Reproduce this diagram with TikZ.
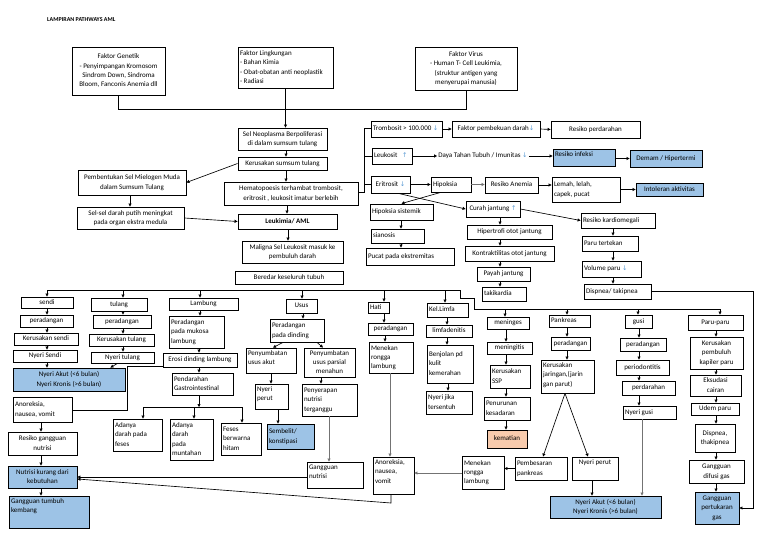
\documentclass[tikz,border=0pt]{standalone}
\usepackage{fontspec}
\setmainfont{Carlito}
\newfontfamily\dvs{DejaVu Sans}
\usetikzlibrary{arrows.meta}
\definecolor{bluebox}{HTML}{9DC3E6}
\definecolor{orangebox}{HTML}{F8CBAD}
\definecolor{ablue}{HTML}{5B9BD5}
\newcommand\fs{\fontsize{7}{9.3}\selectfont}
\newcommand\dnarr{{\dvs\fontsize{6.5}{6.5}\selectfont\color{ablue}↓}}
\newcommand\uparr{{\dvs\fontsize{6.5}{6.5}\selectfont\color{ablue}↑}}
% \bx[vpos]{name}{x1}{y1}{x2}{y2}{style}{l/c}{text}
\newcommand\bx[9][c]{\node[box,#7] (#2) at ({(#3+#5)/2},{(#4+#6)/2}) {\parbox[c][\dimexpr#6pt-#4pt-2pt\relax][#1]{\dimexpr#5pt-#3pt-4pt\relax}{\ifx l#8\raggedright\else\centering\fi\begin{tabular}{@{}#8@{}}#9\end{tabular}}};}
\newcommand\va[3]{\draw[arr] (#2.south -| #1,0) -- (#3.north -| #1,0);}
\newcommand\dr[3]{\draw[arr] (#1,#2) -- (#3.north -| #1,#2);}
\begin{document}
\begin{tikzpicture}[x=1pt,y=-1pt,
  box/.style={draw, line width=0.85pt, inner xsep=2pt, inner ysep=1pt, font=\fs, fill=white},
  bluefill/.style={fill=bluebox},
  orangefill/.style={fill=orangebox},
  ln/.style={line width=0.65pt},
  arr/.style={line width=0.65pt, -{Triangle[length=3pt,width=3pt]}},
  garr/.style={arr, draw=black!55}]
\fill[white] (0,0) rectangle (768,543);
\useasboundingbox (0,0) rectangle (768,543);
\node[anchor=west, font=\bfseries\fontsize{6}{7}\selectfont, inner sep=0pt] (title) at (47,20) {LAMPIRAN PATHWAYS AML};
% top factors
\bx{gen}{72}{47}{165}{95}{}{c}{Faktor Genetik\\- Penyimpangan Kromosom\\Sindrom Down, Sindroma\\Bloom, Fanconis Anemia dll}
\bx{ling}{238}{47}{333}{88}{}{l}{Faktor Lingkungan\\- Bahan Kimia\\- Obat-obatan anti neoplastik\\- Radiasi}
\bx{vir}{415}{47}{517}{90}{}{c}{Faktor Virus\\- Human T- Cell Leukimia,\\(struktur antigen yang\\menyerupai manusia)}
% central column
\bx{neo}{238}{128}{327}{150}{}{c}{Sel Neoplasma Berpoliferasi\\di dalam sumsum tulang}
\bx{kss}{238}{157}{327}{170}{}{c}{Kerusakan sumsum tulang}
\bx{hem}{224}{182}{358}{205}{}{c}{Hematopoesis terhambat trombosit,\\eritrosit , leukosit imatur berlebih}
\bx{leu}{238}{214}{337}{229}{}{c}{\textbf{Leukimia/ AML}}
\bx{mal}{242}{241}{343}{263}{}{c}{Maligna Sel Leukosit masuk ke\\pembuluh darah}
\bx{ber}{235}{271}{343}{284}{}{c}{Beredar keseluruh tubuh}
\bx{pemb}{78}{170}{186}{195}{}{c}{Pembentukan Sel Mielogen Muda\\dalam Sumsum Tulang}
\bx{selp}{77}{207}{184}{229}{}{c}{Sel-sel darah putih meningkat\\pada organ ekstra medula}
% upper right
\bx{tromb}{371}{121}{442}{137}{}{l}{Trombosit > 100.000 \dnarr}
\bx{fpd}{452}{121}{540}{137}{}{c}{Faktor pembekuan darah\dnarr}
\bx{rper}{551}{121}{640}{138}{}{c}{Resiko perdarahan}
\bx{leuk}{372}{148}{412}{164}{}{l}{Leukosit \hspace{3pt}\uparr}
\node[font=\fs, inner sep=1pt] (daya) at (483,156) {Daya Tahan Tubuh / Imunitas \dnarr};
\bx[t]{rinf}{553}{149}{615}{166}{bluefill}{l}{Resiko infeksi}
\bx{dem}{630}{150}{702}{167}{bluefill}{c}{Demam / Hipertermi}
\bx{erit}{371}{176}{410}{193}{}{c}{Eritrosit \dnarr}
\bx{hip}{431}{177}{471}{192}{}{l}{Hipoksia}
\bx{ran}{485}{177}{538}{193}{}{c}{Resiko Anemia}
\bx{lem}{552}{177}{620}{202}{}{l}{Lemah, lelah,\\capek, pucat}
\bx{into}{636}{183}{703}{196}{bluefill}{c}{Intoleran aktivitas}
\bx{hsis}{370}{204}{433}{220}{}{l}{Hipoksia sistemik}
\bx{sia}{371}{229}{424}{243}{}{l}{sianosis}
\bx{puc}{366}{248}{454}{265}{}{l}{Pucat pada ekstremitas}
\bx{cur}{466}{201}{520}{217}{}{c}{Curah jantung \uparr}
\bx{hipt}{467}{225}{552}{239}{}{c}{Hipertrofi otot jantung}
\bx{kon}{465}{246}{554}{261}{}{c}{Kontraktilitas otot jantung}
\bx{pay}{477}{267}{530}{281}{}{c}{Payah jantung}
\bx{tak}{482}{287}{526}{301}{}{l}{takikardia}
\bx{rkar}{581}{213}{655}{228}{}{l}{Resiko kardiomegali}
\bx{ptk}{582}{236}{638}{251}{}{l}{Paru tertekan}
\bx{vol}{582}{261}{641}{277}{}{l}{Volume paru \dnarr}
\bx{dis}{584}{284}{651}{299}{}{l}{Dispnea/ takipnea}
% sendi column
\bx{sendi}{21}{297}{73}{308}{}{c}{sendi}
\bx{per1}{20}{315}{73}{327}{}{c}{peradangan}
\bx{ksendi}{14}{333}{78}{345}{}{c}{Kerusakan sendi}
\bx{nsendi}{13}{350}{77}{362}{}{c}{Nyeri Sendi}
\bx{nak1}{13}{368}{125}{391}{bluefill}{c}{Nyeri Akut (<6 bulan)\\Nyeri Kronis (>6 bulan)}
\bx{ano1}{13}{397}{72}{422}{}{l}{Anoreksia,\\nausea, vomit}
\bx{rgn}{8}{432}{77}{455}{}{c}{Resiko gangguan\\nutrisi}
\bx{nkd}{8}{466}{77}{488}{bluefill}{c}{Nutrisi kurang dari\\kebutuhan}
\bx[t]{gtk}{9}{496}{89}{528}{bluefill}{l}{Gangguan tumbuh\\kembang}
% tulang column
\bx{tulang}{91}{298}{147}{311}{}{c}{tulang}
\bx{per2}{93}{315}{151}{328}{}{c}{peradangan}
\bx{ktul}{89}{334}{154}{346}{}{c}{Kerusakan tulang}
\bx{ntul}{91}{352}{154}{363}{}{c}{Nyeri tulang}
% lambung column
\bx{lamb}{169}{298}{238}{310}{}{c}{Lambung}
\bx{pml}{169}{316}{224}{348}{}{l}{Peradangan\\pada mukosa\\lambung}
\bx{ero}{163}{353}{237}{367}{}{c}{Erosi dinding lambung}
\bx{pgi}{172}{373}{233}{395}{}{l}{Pendarahan\\Gastrointestinal}
\bx{adf}{113}{419}{162}{451}{}{l}{Adanya\\darah pada\\feses}
\bx{adm}{170}{419}{213}{460}{}{l}{Adanya\\darah\\pada\\muntahan}
\bx{fbh}{221}{423}{261}{455}{}{l}{Feses\\berwarna\\hitam}
% usus column
\bx{usus}{286}{299}{317}{313}{}{c}{Usus}
\bx{ppd}{270}{319}{324}{342}{}{l}{Peradangan\\pada dinding}
\bx[t]{pua}{246}{348}{296}{373}{}{l}{Penyumbatan\\usus akut}
\bx{pup}{304}{348}{355}{377}{}{c}{Penyumbatan\\usus parsial\\menahun}
\bx[t]{npr}{255}{384}{288}{409}{}{l}{Nyeri\\perut}
\bx{pnt}{302}{384}{357}{416}{}{l}{Penyerapan\\nutrisi\\terganggu}
\bx{sem}{267}{424}{314}{449}{bluefill}{l}{Sembelit/\\konstipasi}
\bx[t]{gnu}{307}{462}{363}{488}{}{l}{Gangguan\\nutrisi}
% hati column
\bx{hati}{368}{302}{389}{313}{}{l}{Hati}
\bx{per3}{368}{323}{413}{335}{}{c}{peradangan}
\bx{mrl1}{369}{342}{413}{373}{}{l}{Menekan\\rongga\\lambung}
\bx[t]{ano2}{373}{457}{414}{494}{}{l}{Anoreksia,\\nausea,\\vomit}
% kel limfa column
\bx{kel}{427}{303}{468}{317}{}{l}{Kel.Limfa}
\bx{lim}{426}{325}{472}{337}{}{c}{limfadenitis}
\bx{ben}{427}{345}{473}{383}{}{l}{Benjolan pd\\kulit\\kemerahan}
\bx{nje}{426}{391}{472}{414}{}{l}{Nyeri jika\\tersentuh}
% meninges column
\bx{men}{487}{317}{529}{329}{}{c}{meninges}
\bx{mgt}{487}{342}{532}{354}{}{c}{meningitis}
\bx{kssp}{490}{365}{530}{388}{}{l}{Kerusakan\\SSP}
\bx{pke}{484}{397}{530}{420}{}{l}{Penurunan\\kesadaran}
\bx{kem}{487}{430}{527}{448}{orangefill}{c}{kematian}
% pankreas column
\bx{pan}{549}{315}{590}{327}{}{l}{Pankreas}
\bx{per4}{551}{337}{590}{350}{}{c}{peradangan}
\bx[t]{kjp}{541}{360}{594}{393}{}{l}{Kerusakan\\jaringan,(jarin\\gan parut)}
\bx{pbp}{515}{457}{567}{480}{}{l}{Pembesaran\\pankreas}
\bx[t]{nper2}{572}{457}{618}{480}{}{c}{Nyeri perut}
\bx{nak2}{550}{496}{661}{518}{bluefill}{c}{Nyeri Akut (<6 bulan)\\Nyeri Kronis (>6 bulan)}
\bx{mrl2}{462}{456}{504}{489}{}{l}{Menekan\\rongga\\lambung}
% gusi column
\bx{gusi}{625}{315}{652}{328}{}{c}{gusi}
\bx{per5}{620}{338}{666}{351}{}{c}{peradangan}
\bx{perio}{616}{360}{669}{375}{}{c}{periodontitis}
\bx{perd}{622}{381}{675}{395}{}{c}{perdarahan}
\bx{ngus}{623}{406}{676}{419}{}{l}{Nyeri gusi}
% paru column
\bx{paru}{688}{315}{743}{330}{}{c}{Paru-paru}
\bx{kpk}{690}{337}{743}{369}{}{c}{Kerusakan\\pembuluh\\kapiler paru}
\bx{eks}{690}{375}{741}{396}{}{c}{Eksudasi\\cairan}
\bx{udem}{691}{403}{739}{415}{}{c}{Udem paru}
\bx{dtk}{695}{424}{735}{452}{}{c}{Dispnea,\\thakipnea}
\bx{gdg}{689}{460}{744}{483}{}{c}{Gangguan\\difusi gas}
\bx{gpg}{695}{492}{739}{524}{bluefill}{c}{Gangguan\\pertukaran\\gas}
% ---------- connectors ----------
\draw[ln] (gen.south) -- (gen.south |- 0,109) -- (vir.south |- 0,109) -- (vir.south);
\draw[arr] (ling.south) -- (ling.south |- neo.north);
\va{286}{neo}{kss}
\va{286}{kss}{hem}
\va{287}{hem}{leu}
\va{288}{leu}{mal}
\draw[arr] (kss.west) -- (pemb.east);
\va{130}{pemb}{selp}
\draw[arr] (selp.east) -- (leu.west);
% bracket to blood cells
\draw[ln] (hem.east |- 0,192) -- (364,192) -- (364,128) -- (tromb.west |- 0,128);
\draw[ln] (364,156) -- (leuk.west |- 0,156);
\draw[ln] (364,184) -- (erit.west |- 0,184);
\draw[arr] (tromb.east) -- (fpd.west);
\draw[arr] (fpd.east) -- (rper.west);
\draw[arr] (leuk.east) -- (daya.west);
\draw[arr] (daya.east) -- (rinf.west |- daya.east);
\draw[arr] (rinf.east |- dem.west) -- (dem.west);
\draw[arr] (erit.east |- hip.west) -- (hip.west);
\draw[garr] (hip.east) -- (ran.west |- hip.east);
\draw[arr] (ran.east) -- (lem.west |- ran.east);
\draw[arr] (lem.east |- into.west) -- (into.west);
\draw[arr] ([xshift=10pt]hip.south west) -- (hsis.north);
\draw[arr] ([xshift=8pt]erit.south) -- (cur.west);
\va{401}{hsis}{sia}
\va{401}{sia}{puc}
\va{500}{cur}{hipt}
\va{500}{hipt}{kon}
\va{500}{kon}{pay}
\va{500}{pay}{tak}
\draw[arr] (cur.east) -- (rkar.west);
\va{613}{rkar}{ptk}
\va{613}{ptk}{vol}
\va{613}{vol}{dis}
\draw[arr] (dis.east) -- (753,291.5) -- (753,508) -- (gpg.east |- 0,508);
% distribution bus
\draw[ln] (47,290) -- (460,290) -- (460,298) -- (474,298) -- (474,309) -- (720,309);
\dr{47}{290}{sendi}
\dr{123}{290}{tulang}
\dr{200}{290}{lamb}
\dr{302}{290}{usus}
\dr{384}{290}{hati}
\dr{445}{290}{kel}
\dr{505}{309}{men}
\dr{567}{309}{pan}
\dr{638}{309}{gusi}
\dr{720}{309}{paru}
% sendi / tulang
\va{47}{sendi}{per1}
\va{47}{per1}{ksendi}
\va{47}{ksendi}{nsendi}
\va{47}{nsendi}{nak1}
\va{123}{tulang}{per2}
\va{123}{per2}{ktul}
\va{123}{ktul}{ntul}
\draw[arr] ([xshift=-5pt]ntul.south) -- ([xshift=-15pt]nak1.north east);
\va{41}{ano1}{rgn}
\va{41}{rgn}{nkd}
\va{41}{nkd}{gtk}
% lambung
\va{200}{lamb}{pml}
\va{199}{pml}{ero}
\va{199}{ero}{pgi}
\draw[arr] (pgi.south -| 199,0) -- (199,407);
\draw[ln] (143,407) -- (242,407);
\draw[arr] (143,407) -- (adf.north -| 143,0);
\draw[arr] (194,407) -- (adm.north -| 194,0);
\draw[arr] (242,407) -- (fbh.north -| 242,0);
\draw[ln] (ero.west |- 0,366) -- (127,366) -- (127,410) -- (ano1.east |- 0,410);
% usus
\va{303}{usus}{ppd}
\draw[arr] (ppd.south -| 283,0) -- (pua.north -| 273,0);
\draw[arr] (ppd.south -| 317,0) -- (pup.north -| 323,0);
\va{271}{pua}{npr}
\va{278}{npr}{sem}
\va{321}{pup}{pnt}
\draw[garr] (pnt.south -| 329,0) -- (gnu.north -| 329,0);
\draw[arr] (gnu.west |- 0,477) -- (nkd.east |- 0,477);
\draw[arr] (ano2.south -| 391,0) -- (391,503) -- (nkd.east |- 0,479);
% hati
\va{384}{hati}{per3}
\va{385}{per3}{mrl1}
\draw[garr] (mrl1.south -| 390,0) -- (ano2.north -| 390,0);
% kel limfa
\va{447}{kel}{lim}
\va{447}{lim}{ben}
\va{448}{ben}{nje}
% meninges
\va{506}{men}{mgt}
\va{506}{mgt}{kssp}
\va{506}{kssp}{pke}
\va{506}{pke}{kem}
% pankreas
\va{567}{pan}{per4}
\va{567}{per4}{kjp}
\draw[arr] (kjp.south -| 565,0) -- (pbp.north -| 543,0);
\draw[arr] (kjp.south -| 565,0) -- (nper2.north -| 588,0);
\draw[arr] (pbp.west) -- (mrl2.east |- pbp.west);
\draw[garr] (mrl2.west |- 0,473) -- (ano2.east |- 0,473);
\va{592}{nper2}{nak2}
% gusi
\va{639}{gusi}{per5}
\va{639}{per5}{perio}
\va{639}{perio}{perd}
\va{639}{perd}{ngus}
\draw[garr] (ngus.south -| 642,0) -- (nak2.north -| 642,0);
% paru
\va{716}{paru}{kpk}
\va{716}{kpk}{eks}
\va{716}{eks}{udem}
\va{716}{udem}{dtk}
\va{716}{dtk}{gdg}
\va{716}{gdg}{gpg}
\end{tikzpicture}
\end{document}
